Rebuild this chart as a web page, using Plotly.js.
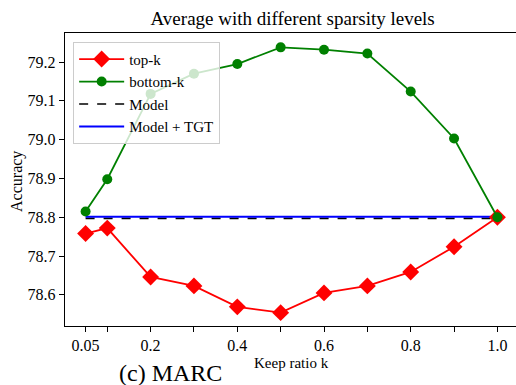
<!DOCTYPE html>
<html>
<head>
<meta charset="utf-8">
<script src="https://cdn.plot.ly/plotly-3.0.1.min.js"></script>
<style>
html,body{margin:0;padding:0;overflow:hidden;background:#fff;}
#chart{width:518px;height:385px;}
</style>
</head>
<body>
<div id="chart"></div>
<script>
const keepRatio = [0.05, 0.1, 0.2, 0.3, 0.4, 0.5, 0.6, 0.7, 0.8, 0.9, 1.0];
const topK = [78.758, 78.772, 78.646, 78.623, 78.569, 78.554, 78.605, 78.623, 78.659, 78.724, 78.800];
const bottomK = [78.815, 78.898, 79.118, 79.170, 79.195, 79.238, 79.232, 79.222, 79.124, 79.003, 78.800];
const modelX = [0.05, 1.0];
const modelVal = [78.797, 78.797];
const tgtVal = [78.801, 78.801];
const xTickVals = [0.05, 0.1, 0.2, 0.3, 0.4, 0.5, 0.6, 0.7, 0.8, 0.9, 1.0];
const xTickText = ['0.05', '', '0.2', '', '0.4', '', '0.6', '', '0.8', '', '1.0'];
const yTickVals = [78.6, 78.7, 78.8, 78.9, 79.0, 79.1, 79.2];
const yTickText = ['78.6', '78.7', '78.8', '78.9', '79.0', '79.1', '79.2'];

const serif = "'Liberation Serif', 'Times New Roman', serif";

const traces = [
  {x: modelX, y: modelVal, name: 'Model', mode: 'lines',
   line: {color: '#000000', width: 1.6, dash: 'dash'}, legendrank: 3},
  {x: modelX, y: tgtVal, name: 'Model + TGT', mode: 'lines',
   line: {color: '#0000ff', width: 2}, legendrank: 4},
  {x: keepRatio, y: topK, name: 'top-k', mode: 'lines+markers',
   line: {color: '#ff0000', width: 1.8}, marker: {symbol: 'diamond', size: 13, color: '#ff0000'}, legendrank: 1},
  {x: keepRatio, y: bottomK, name: 'bottom-k', mode: 'lines+markers',
   line: {color: '#008000', width: 1.8}, marker: {symbol: 'circle', size: 10, color: '#008000'}, legendrank: 2}
];

const layout = {
  width: 518, height: 385,
  margin: {l: 65, r: 0, t: 33, b: 59, pad: 0},
  paper_bgcolor: '#ffffff', plot_bgcolor: '#ffffff',
  font: {family: serif, color: '#000000', size: 16},
  title: {text: 'Average with different sparsity levels', font: {family: serif, size: 19, color: '#000'},
          x: 0.565, xanchor: 'center', y: 0.953, yanchor: 'middle'},
  xaxis: {range: [0.0025, 1.0475], tickmode: 'array', tickvals: xTickVals, ticktext: xTickText,
          ticks: 'outside', ticklen: 5, tickwidth: 1, tickcolor: '#000',
          showline: true, linecolor: '#000', linewidth: 1.2, mirror: true,
          showgrid: false, zeroline: false, tickfont: {size: 16, family: serif, color: '#000'}},
  yaxis: {range: [78.5196, 79.275], tickmode: 'array', tickvals: yTickVals, ticktext: yTickText,
          ticks: 'outside', ticklen: 5, tickwidth: 1, tickcolor: '#000',
          showline: true, linecolor: '#000', linewidth: 1.2, mirror: true,
          showgrid: false, zeroline: false, tickfont: {size: 16, family: serif, color: '#000'}},
  legend: {x: 0.018, y: 0.97, xanchor: 'left', yanchor: 'top',
           bgcolor: 'rgba(255,255,255,0.8)', bordercolor: '#cccccc', borderwidth: 1,
           font: {size: 15, family: serif, color: '#000'}, tracegroupgap: 0, itemwidth: 45},
  showlegend: true,
  annotations: [
    {text: '(c) MARC', xref: 'paper', yref: 'paper', x: 0.232, y: -0.16,
     xanchor: 'center', yanchor: 'middle', showarrow: false,
     font: {size: 24, family: serif, color: '#000'}},
    {text: 'Keep ratio k', xref: 'paper', yref: 'paper', x: 0.5, y: -0.126,
     xanchor: 'center', yanchor: 'middle', showarrow: false,
     font: {size: 15, family: serif, color: '#000'}},
    {text: 'Accuracy', xref: 'paper', yref: 'paper', x: -0.106, y: 0.495, textangle: -90,
     xanchor: 'center', yanchor: 'middle', showarrow: false,
     font: {size: 16, family: serif, color: '#000'}}
  ]
};

Plotly.newPlot('chart', traces, layout, {displayModeBar: false, staticPlot: true});
</script>
</body>
</html>
